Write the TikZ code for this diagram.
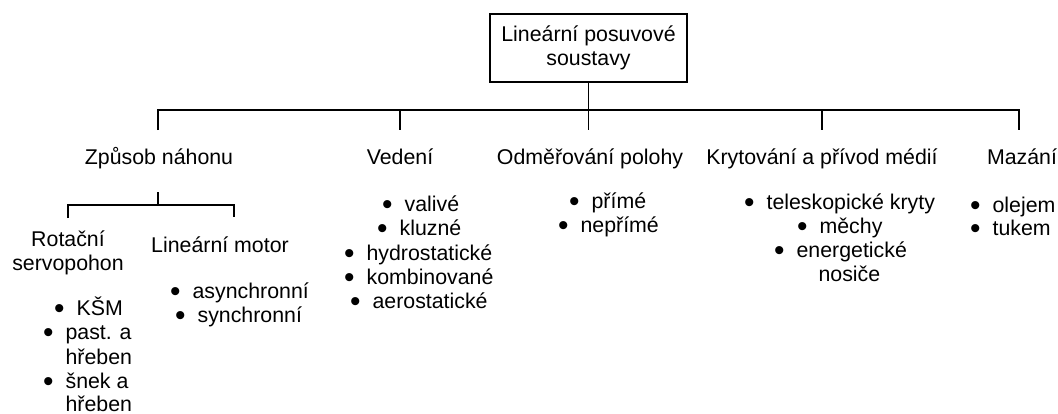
\documentclass[tikz,border=0pt]{standalone}
\usepackage{fontspec}
\setmainfont{Liberation Sans}
\usepackage{tikz}

\newcommand{\itm}{\makebox[0pt][r]{\smash{\raisebox{-0.17em}{\scalebox{1.4}{\textbullet}}}\hspace{9pt}}}

\begin{document}
\begin{tikzpicture}[x=0.75pt,y=-0.75pt,line width=0.9pt,font=\fontsize{16}{18}\selectfont,
    root node/.style={draw,align=center,minimum width=147.75pt,minimum height=51pt,inner sep=0pt},
    head node/.style={anchor=base,inner sep=0pt},
    item node/.style={anchor=base west,inner sep=0pt}]
        \useasboundingbox (0,0) rectangle (1058,414);
        \node[root node] (root) at (588.5,48) {Lineární posuvové\\soustavy};

        \node[head node] (zpusob) at (159,164) {Způsob náhonu};
        \node[head node] (vedeni) at (400,164) {Vedení};
        \node[head node] (odmer)  at (590,164) {Odměřování polohy};
        \node[head node] (kryt)   at (822,164) {Krytování a přívod médií};
        \node[head node] (mazani) at (1022,164) {Mazání};

        \coordinate (j0) at (588.5,110);
        \coordinate (d1) at (158,130);
        \coordinate (d2) at (400,130);
        \coordinate (d3) at (588.5,130);
        \coordinate (d4) at (822,130);
        \coordinate (d5) at (1019,130);
        \draw (root.south) -- (j0);
        \draw (d1) -- (d1 |- j0) -- (d5 |- j0) -- (d5);
        \draw (d2 |- j0) -- (d2);
        \draw (d3 |- j0) -- (d3);
        \draw (d4 |- j0) -- (d4);

        % zpusob nahonu
        \coordinate (s0) at (158,192);
        \coordinate (sj) at (158,205);
        \coordinate (s1) at (68,218);
        \coordinate (s2) at (234,217);
        \draw (s0) -- (sj);
        \draw (s1) -- (s1 |- sj) -- (s2 |- sj) -- (s2);
        \node[head node] (rot1) at (68,246) {Rotační};
        \node[head node] (rot2) at (68,270) {servopohon};
        \node[head node] (linmot) at (220,252) {Lineární motor};

        \node[item node] (ksm)  at (76,315) {\itm KŠM};
        \node[item node] (past) at (65,339) {\itm past. a};
        \node[item node] (hreb1) at (65,364) {hřeben};
        \node[item node] (snek) at (65,388) {\itm šnek a};
        \node[item node] (hreb2) at (65,411) {hřeben};
        \node[item node] (async) at (192,298) {\itm asynchronní};
        \node[item node] (sync)  at (197,322) {\itm synchronní};

        % vedeni
        \node[item node] (valiv) at (404,211) {\itm valivé};
        \node[item node] (kluz)  at (399,235) {\itm kluzné};
        \node[item node] (hydro) at (366,260) {\itm hydrostatické};
        \node[item node] (komb)  at (366,284) {\itm kombinované};
        \node[item node] (aero)  at (372,308) {\itm aerostatické};

        % odmerovani
        \node[item node] (prime)  at (591,208) {\itm přímé};
        \node[item node] (neprim) at (580,232) {\itm nepřímé};

        % krytovani
        \node[item node] (telesk) at (766,209) {\itm teleskopické kryty};
        \node[item node] (mechy)  at (819,233) {\itm měchy};
        \node[item node] (energ)  at (796,257) {\itm energetické};
        \node[item node] (nosic)  at (818,281) {nosiče};

        % mazani
        \node[item node] (olej)  at (992,212) {\itm olejem};
        \node[item node] (tuk)   at (992,235) {\itm tukem};
      \end{tikzpicture}
\end{document}
